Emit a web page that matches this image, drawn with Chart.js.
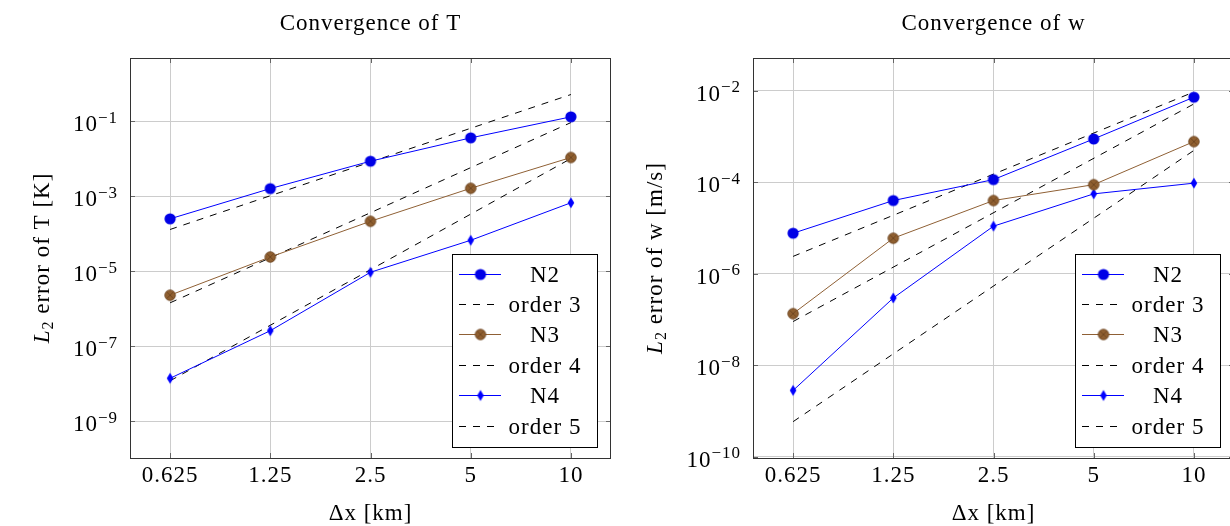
<!DOCTYPE html>
<html>
<head>
<meta charset="utf-8">
<script src="https://cdn.jsdelivr.net/npm/chart.js@4/dist/chart.umd.min.js"></script>
<style>
  html, body { margin: 0; padding: 0; overflow: hidden; background: #fff; width: 1230px; height: 526px; }
  .panel { position: absolute; top: 0; width: 620px; height: 540px; }
  #panelT { left: 0; }
  #panelW { left: 623px; }
</style>
</head>
<body>
<div class="panel" id="panelT"><canvas id="chartT"></canvas></div>
<div class="panel" id="panelW"><canvas id="chartW"></canvas></div>
<script>
// grid spacings (x axis) and reference-line end points
const dx = [0.625, 1.25, 2.5, 5, 10];
const refDx = [0.625, 10];

// L2 error of T [K]
const tN2 = [2.5e-4, 1.6e-3, 8.6e-3, 3.6e-2, 0.131];
const tN3 = [2.3e-6, 2.4e-5, 2.15e-4, 1.63e-3, 1.08e-2];
const tN4 = [1.4e-8, 2.6e-7, 9.4e-6, 6.7e-5, 6.7e-4];
const tOrder3 = [1.3e-4, 0.515];
const tOrder4 = [1.44e-6, 0.092];
const tOrder5 = [1.2e-8, 0.0101];

// L2 error of w [m/s]
const wN2 = [7.7e-6, 4.0e-5, 1.15e-4, 8.9e-4, 7.3e-3];
const wN3 = [1.34e-7, 6.0e-6, 4.0e-5, 8.9e-5, 7.8e-4];
const wN4 = [2.8e-9, 2.95e-7, 1.1e-5, 5.6e-5, 9.6e-5];
const wOrder3 = [2.4e-6, 9.5e-3];
const wOrder4 = [9.0e-8, 5.2e-3];
const wOrder5 = [5.8e-10, 5.0e-4];

// y tick values
const tYTicks = [1e-9, 1e-7, 1e-5, 1e-3, 1e-1];
const wYTicks = [1e-10, 1e-8, 1e-6, 1e-4, 1e-2];

const FONT = '"Liberation Serif", "DejaVu Serif", serif';

// marker images
function markerCanvas(w, h, draw) {
    const c = document.createElement('canvas');
    c.width = w; c.height = h;
    draw(c.getContext('2d'));
    return c;
}
const dotBlue = markerCanvas(14, 14, g => {
    g.fillStyle = '#0000e6';
    g.beginPath(); g.arc(7, 7, 5.6, 0, 2 * Math.PI); g.fill();
});
const dotBrown = markerCanvas(14, 14, g => {
    g.fillStyle = '#8f5f30'; g.strokeStyle = '#6a4220'; g.lineWidth = 0.8;
    g.beginPath(); g.arc(7, 7, 5.3, 0, 2 * Math.PI); g.fill(); g.stroke();
    g.beginPath();
    g.moveTo(3.3, 3.3); g.lineTo(10.7, 10.7);
    g.moveTo(10.7, 3.3); g.lineTo(3.3, 10.7);
    g.stroke();
});
const diamondBlue = markerCanvas(10, 14, g => {
    g.fillStyle = '#0000ff';
    g.beginPath(); g.moveTo(5, 1.5); g.lineTo(8.3, 7); g.lineTo(5, 12.5); g.lineTo(1.7, 7); g.closePath(); g.fill();
});

function series(label, xs, ys, style) {
    return Object.assign({
        label: label,
        data: xs.map((x, i) => ({ x: x, y: ys[i] })),
        borderWidth: 1, fill: false, tension: 0, pointRadius: 0
    }, style);
}
const dashed = { borderColor: '#000', borderDash: [7, 7] };

// titles, y labels, frame, inner ticks and legend
const framePlugin = {
    id: 'frame',
    beforeDraw(chart) {
        chart.ctx.letterSpacing = '1px';
    },
    afterDraw(chart, args, opts) {
        const { ctx, chartArea: a, scales: { x, y } } = chart;
        const seg = (x1, y1, x2, y2) => { ctx.beginPath(); ctx.moveTo(x1, y1); ctx.lineTo(x2, y2); ctx.stroke(); };
        ctx.save();
        ctx.letterSpacing = '1px';

        // inner tick marks
        ctx.strokeStyle = '#666'; ctx.lineWidth = 1;
        x.ticks.forEach(t => {
            const px = Math.round(x.getPixelForValue(t.value)) + 0.5;
            seg(px, a.bottom, px, a.bottom - 5);
            seg(px, a.top, px, a.top + 5);
        });
        y.ticks.forEach(t => {
            const py = Math.round(y.getPixelForValue(t.value)) + 0.5;
            seg(a.left, py, a.left + 5, py);
            seg(a.right, py, a.right - 5, py);
        });

        // frame
        ctx.strokeStyle = '#333';
        ctx.strokeRect(a.left + 0.5, a.top + 0.5, a.right - a.left - 1, a.bottom - a.top);

        // y tick labels 10^e
        ctx.fillStyle = '#000'; ctx.textAlign = 'left'; ctx.textBaseline = 'alphabetic';
        let labelLeft = Infinity;
        y.ticks.forEach(t => {
            const py = y.getPixelForValue(t.value);
            const e = Math.round(Math.log10(t.value));
            const exp = e < 0 ? '\u2212' + (-e) : String(e);
            ctx.font = '17px ' + FONT;
            const ew = ctx.measureText(exp).width;
            ctx.font = '23px ' + FONT;
            const bw = ctx.measureText('10').width;
            const right = a.left - 12;
            ctx.fillText('10', right - ew - bw, py + 10);
            ctx.font = '17px ' + FONT;
            ctx.fillText(exp, right - ew, py + 1.5);
            labelLeft = Math.min(labelLeft, right - ew - bw);
        });

        // y axis title
        ctx.save();
        ctx.translate(labelLeft - 24, (a.top + a.bottom) / 2);
        ctx.rotate(-Math.PI / 2);
        const parts = [
            { t: 'L', f: 'italic 23px ' + FONT, dy: 0 },
            { t: '2', f: '16px ' + FONT, dy: 4 },
            { t: ' ' + opts.yTitle, f: '23px ' + FONT, dy: 0 }
        ];
        let total = 0;
        parts.forEach(p => { ctx.font = p.f; p.w = ctx.measureText(p.t).width; total += p.w; });
        let cx = -total / 2;
        parts.forEach(p => { ctx.font = p.f; ctx.fillText(p.t, cx, p.dy); cx += p.w; });
        ctx.restore();

        // plot title
        ctx.font = '23px ' + FONT; ctx.textAlign = 'center';
        ctx.fillText(opts.title, (a.left + a.right) / 2, 30);

        // legend
        const bw = 145, bh = 193;
        const bx = Math.round(a.right - 14 - bw), by = Math.round(a.bottom - 11 - bh);
        ctx.fillStyle = '#fff'; ctx.fillRect(bx, by, bw, bh);
        ctx.strokeStyle = '#000'; ctx.lineWidth = 1;
        ctx.strokeRect(bx + 0.5, by + 0.5, bw, bh);
        chart.data.datasets.forEach((ds, i) => {
            const ry = Math.round(by + 19.5 + i * 30.45) + 0.5;
            ctx.save();
            ctx.strokeStyle = ds.borderColor; ctx.lineWidth = ds.borderWidth;
            ctx.setLineDash(ds.borderDash || []);
            seg(bx + 7, ry, bx + 49, ry);
            ctx.restore();
            if (ds.pointRadius > 0) {
                const m = ds.pointStyle;
                ctx.drawImage(m, bx + 28.5 - m.width / 2, ry - m.height / 2);
            }
            ctx.fillStyle = '#000'; ctx.font = '23px ' + FONT; ctx.textAlign = 'center';
            ctx.fillText(ds.label, bx + 93, ry + 7.5);
        });
        ctx.restore();
    }
};

function makeChart(id, cfg) {
    const grid = { color: '#cccccc', lineWidth: 1, drawTicks: false };
    new Chart(document.getElementById(id), {
        type: 'line',
        data: { datasets: cfg.datasets },
        options: {
            responsive: true, maintainAspectRatio: false, animation: false, events: [],
            layout: { padding: { top: 58, right: 9, left: 0, bottom: 0 } },
            plugins: {
                legend: { display: false }, tooltip: { enabled: false }, title: { display: false },
                frame: { title: cfg.title, yTitle: cfg.yTitle }
            },
            scales: {
                x: {
                    type: 'logarithmic',
                    min: 0.625 / Math.pow(2, 0.4), max: 10 * Math.pow(2, 0.4),
                    afterBuildTicks: s => { s.ticks = dx.map(v => ({ value: v })); },
                    afterFit: s => { s.height = 82; },
                    ticks: {
                        callback: v => String(v), autoSkip: false, maxRotation: 0,
                        font: { family: FONT, size: 23 }, color: '#000', padding: 4
                    },
                    grid: grid, border: { display: false },
                    title: {
                        display: true, text: '\u0394x [km]', color: '#000',
                        font: { family: FONT, size: 23 }, padding: { top: 0, bottom: 12 }
                    }
                },
                y: {
                    type: 'logarithmic', min: cfg.yMin, max: cfg.yMax,
                    afterBuildTicks: s => { s.ticks = cfg.yTicks.map(v => ({ value: v })); },
                    afterFit: s => { s.width = 130; },
                    ticks: { display: false },
                    grid: grid, border: { display: false }
                }
            }
        },
        plugins: [framePlugin]
    });
}

makeChart('chartT', {
    title: 'Convergence of T', yTitle: 'error of T [K]',
    yMin: 1.05e-10, yMax: 4.85, yTicks: tYTicks,
    datasets: [
        series('N2', dx, tN2, { borderColor: '#0000ff', pointStyle: dotBlue, pointRadius: 6 }),
        series('order 3', refDx, tOrder3, dashed),
        series('N3', dx, tN3, { borderColor: '#8f6035', pointStyle: dotBrown, pointRadius: 6 }),
        series('order 4', refDx, tOrder4, dashed),
        series('N4', dx, tN4, { borderColor: '#0000ff', pointStyle: diamondBlue, pointRadius: 6 }),
        series('order 5', refDx, tOrder5, dashed)
    ]
});

makeChart('chartW', {
    title: 'Convergence of w', yTitle: 'error of w [m/s]',
    yMin: 9.3e-11, yMax: 0.0526, yTicks: wYTicks,
    datasets: [
        series('N2', dx, wN2, { borderColor: '#0000ff', pointStyle: dotBlue, pointRadius: 6 }),
        series('order 3', refDx, wOrder3, dashed),
        series('N3', dx, wN3, { borderColor: '#8f6035', pointStyle: dotBrown, pointRadius: 6 }),
        series('order 4', refDx, wOrder4, dashed),
        series('N4', dx, wN4, { borderColor: '#0000ff', pointStyle: diamondBlue, pointRadius: 6 }),
        series('order 5', refDx, wOrder5, dashed)
    ]
});
</script>
</body>
</html>
